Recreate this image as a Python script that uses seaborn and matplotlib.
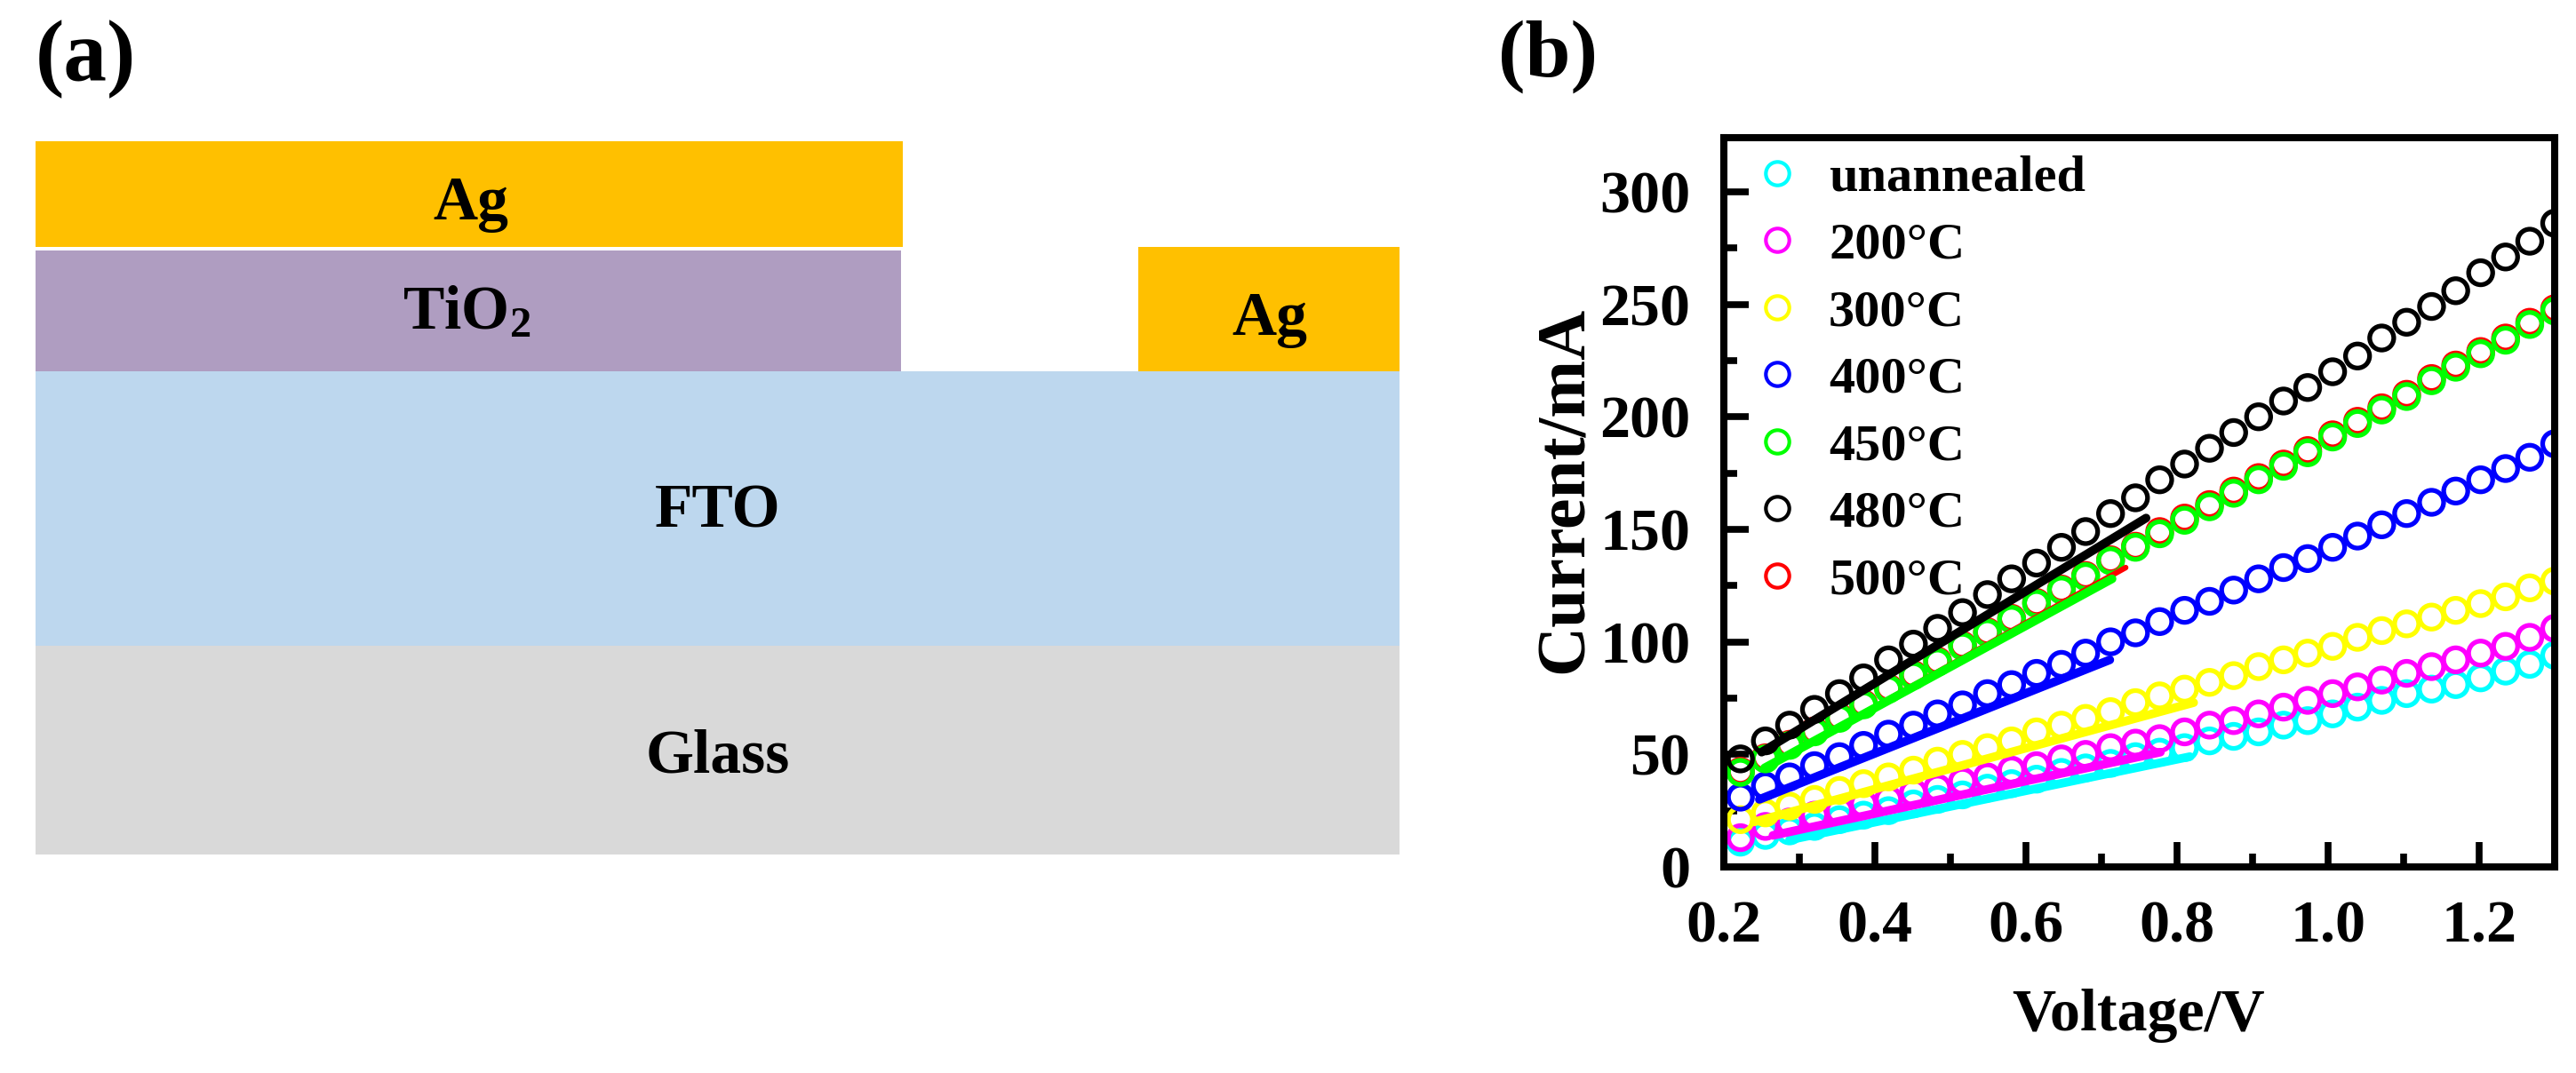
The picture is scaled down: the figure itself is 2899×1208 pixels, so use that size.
import numpy as np
import pandas as pd
import matplotlib
matplotlib.use('Agg')
import matplotlib.pyplot as plt
import seaborn as sns
from matplotlib.lines import Line2D
from matplotlib.ticker import MultipleLocator

# panel (a) layers, thickness in arbitrary units
layer_names = ['Glass', 'FTO', 'TiO$_{2}$', 'Ag', 'Ag']
layer_left = [0, 0, 0, 0, 1241]
layer_width = [1535, 1535, 974, 976, 294]
layer_bottom = [0, 235, 544, 684, 544]
layer_height = [235, 309, 136, 119, 140]
layer_colors = ['#D9D9D9', '#BDD7EE', '#AF9DC1', '#FFC000', '#FFC000']

# panel (b) I-V curves
voltage = [0.222, 0.255, 0.287, 0.320, 0.353, 0.385, 0.418, 0.451, 0.483, 0.516, 0.549, 0.581,
           0.614, 0.647, 0.679, 0.712, 0.745, 0.777, 0.810, 0.843, 0.875, 0.908, 0.941, 0.973,
           1.006, 1.039, 1.071, 1.104, 1.137, 1.169, 1.202, 1.235, 1.267, 1.300]
unannealed = [11, 14, 16, 18, 21, 23, 25, 28, 30, 32, 35, 37, 39, 42, 44, 46, 49,
              51, 53, 56, 58, 60, 63, 65, 68, 71, 74, 77, 79, 81, 84, 87, 90, 94]
t200 = [13, 18, 20, 23, 25, 28, 30, 33, 35, 38, 40, 43, 45, 48, 50, 53, 55,
        57, 60, 63, 65, 68, 71, 74, 77, 80, 83, 86, 89, 92, 95, 98, 102, 106]
t300 = [21, 24, 27, 30, 34, 37, 40, 43, 47, 50, 53, 56, 60, 63, 66, 69, 73,
        76, 79, 82, 85, 89, 92, 95, 98, 102, 105, 108, 111, 114, 117, 120, 124, 127]
t400 = [31, 36, 40, 45, 49, 54, 59, 63, 68, 72, 77, 81, 86, 90, 95, 100, 104,
        109, 114, 118, 123, 128, 133, 137, 142, 147, 152, 157, 162, 167, 172, 177, 182, 188]
t450 = [42, 48, 54, 60, 66, 72, 79, 85, 91, 98, 104, 110, 117, 123, 129, 136, 142,
        148, 154, 160, 166, 172, 178, 184, 191, 197, 203, 209, 216, 222, 228, 234, 241, 247]
t480 = [48, 56, 63, 70, 77, 84, 92, 99, 106, 113, 121, 128, 135, 142, 149, 157, 164,
        172, 179, 186, 193, 200, 207, 213, 220, 227, 235, 242, 249, 256, 264, 271, 278, 286]
t500 = [42.5, 48.5, 54.5, 60.5, 66.5, 72.5, 79.5, 85.5, 91.5, 98.5, 104.5, 110.5, 117.5, 123.5, 129.5, 136.5, 142.5,
        149, 155, 161, 167, 173, 179, 185, 192, 198, 204, 210, 217, 223, 229, 235, 242, 248]

# linear fits (start and end of each line)
fit_v = {'unannealed': [0.287, 0.817], '200°C': [0.265, 0.778], '300°C': [0.240, 0.822],
         '400°C': [0.247, 0.711], '500°C': [0.254, 0.732], '450°C': [0.254, 0.714],
         '480°C': [0.250, 0.759]}
fit_i = {'unannealed': [12, 49], '200°C': [14, 51], '300°C': [20, 73],
         '400°C': [30, 92], '500°C': [44, 133], '450°C': [44, 128],
         '480°C': [51, 155]}

labels = ['unannealed', '200°C', '300°C', '400°C', '450°C', '480°C', '500°C']
colors = ['#00FFFF', '#FF00FF', '#FFFF00', '#0000FF', '#00FF00', '#000000', '#FF0000']
series = [unannealed, t200, t300, t400, t450, t480, t500]

sns.set_theme(style='ticks')
plt.rcParams['font.family'] = ['Liberation Serif', 'DejaVu Serif']
plt.rcParams['font.weight'] = 'bold'
plt.rcParams['text.color'] = 'black'
plt.rcParams['xtick.labelcolor'] = 'black'
plt.rcParams['ytick.labelcolor'] = 'black'
plt.rcParams['xtick.color'] = 'black'
plt.rcParams['ytick.color'] = 'black'
plt.rcParams['mathtext.fontset'] = 'custom'
plt.rcParams['mathtext.rm'] = 'Liberation Serif:bold'
plt.rcParams['mathtext.default'] = 'rm'

W, H = 2899, 1208
fig = plt.figure(figsize=(W / 100, H / 100), dpi=100, facecolor='white')

# ========== (a) 結構示意圖 ==========
ax0 = fig.add_axes([40 / W, 1 - 962 / H, 1535 / W, 803 / H])
ax0.barh(layer_bottom, layer_width, height=layer_height, left=layer_left,
         align='edge', color=layer_colors, linewidth=0)
ax0.set_xlim(0, 1535)
ax0.set_ylim(0, 803)
ax0.axis('off')

fig.text(40 / W, 1 - 90 / H, '(a)', fontsize=70, va='baseline', ha='left')
fig.text(1686 / W, 1 - 86 / H, '(b)', fontsize=66, va='baseline', ha='left')

text_xy = [(808, 852), (808, 577), (525, 353), (530, 230), (1429, 360)]
for name, (tx, ty) in zip(layer_names, text_xy):
    fig.text(tx / W, 1 - ty / H, name, fontsize=50, ha='center', va='center')

# ========== (b) I-V ==========
ax1 = fig.add_axes([1940 / W, 1 - 976 / H, 935 / W, 821 / H])

draw_order = ['unannealed', '200°C', '300°C', '400°C', '500°C', '450°C', '480°C']
df = pd.DataFrame({'voltage': voltage * len(labels),
                   'current': np.concatenate(series),
                   'sample': np.repeat(labels, len(voltage))})
for name in draw_order:
    c = colors[labels.index(name)]
    sns.scatterplot(data=df[df['sample'] == name], x='voltage', y='current', ax=ax1, s=380,
                    facecolor='none', edgecolor=c, linewidth=3.8, legend=False, zorder=2)

for name in draw_order:
    c = colors[labels.index(name)]
    lw = 4.5 if name == '500°C' else 7
    sns.lineplot(x=fit_v[name], y=fit_i[name], ax=ax1, color=c, linewidth=lw,
                 legend=False, zorder=3)

ax1.set_xlim(0.2, 1.3)
ax1.set_ylim(0, 324)
ax1.xaxis.set_major_locator(MultipleLocator(0.2))
ax1.xaxis.set_minor_locator(MultipleLocator(0.1))
ax1.yaxis.set_major_locator(MultipleLocator(50))
ax1.yaxis.set_minor_locator(MultipleLocator(25))
ax1.tick_params(which='major', direction='in', length=20, width=5.5, labelsize=49, pad=27)
ax1.tick_params(which='minor', direction='in', length=11, width=5.5)
for s in ax1.spines.values():
    s.set_linewidth(5.8)
    s.set_visible(True)
    s.set_color('black')

ax1.set_xlabel('')
ax1.set_ylabel('')
fig.text(2407 / W, 1 - 1144 / H, 'Voltage/V', fontsize=49, ha='center', va='center')
fig.text(1762 / W, 1 - 551 / H, 'Current/mA', fontsize=56, ha='center', va='center', rotation=90)

handles = [Line2D([], [], linestyle='none', marker='o', markersize=19, markerfacecolor='none',
                  markeredgecolor=c, markeredgewidth=3.0) for c in colors]
ax1.legend(handles, labels, loc='upper left', bbox_to_anchor=(0.014, 0.998), frameon=False,
           fontsize=42, labelspacing=0.39, handletextpad=0.5, handlelength=1.0,
           borderaxespad=0.0, borderpad=0.3)

plt.savefig('out.png', dpi=100)
